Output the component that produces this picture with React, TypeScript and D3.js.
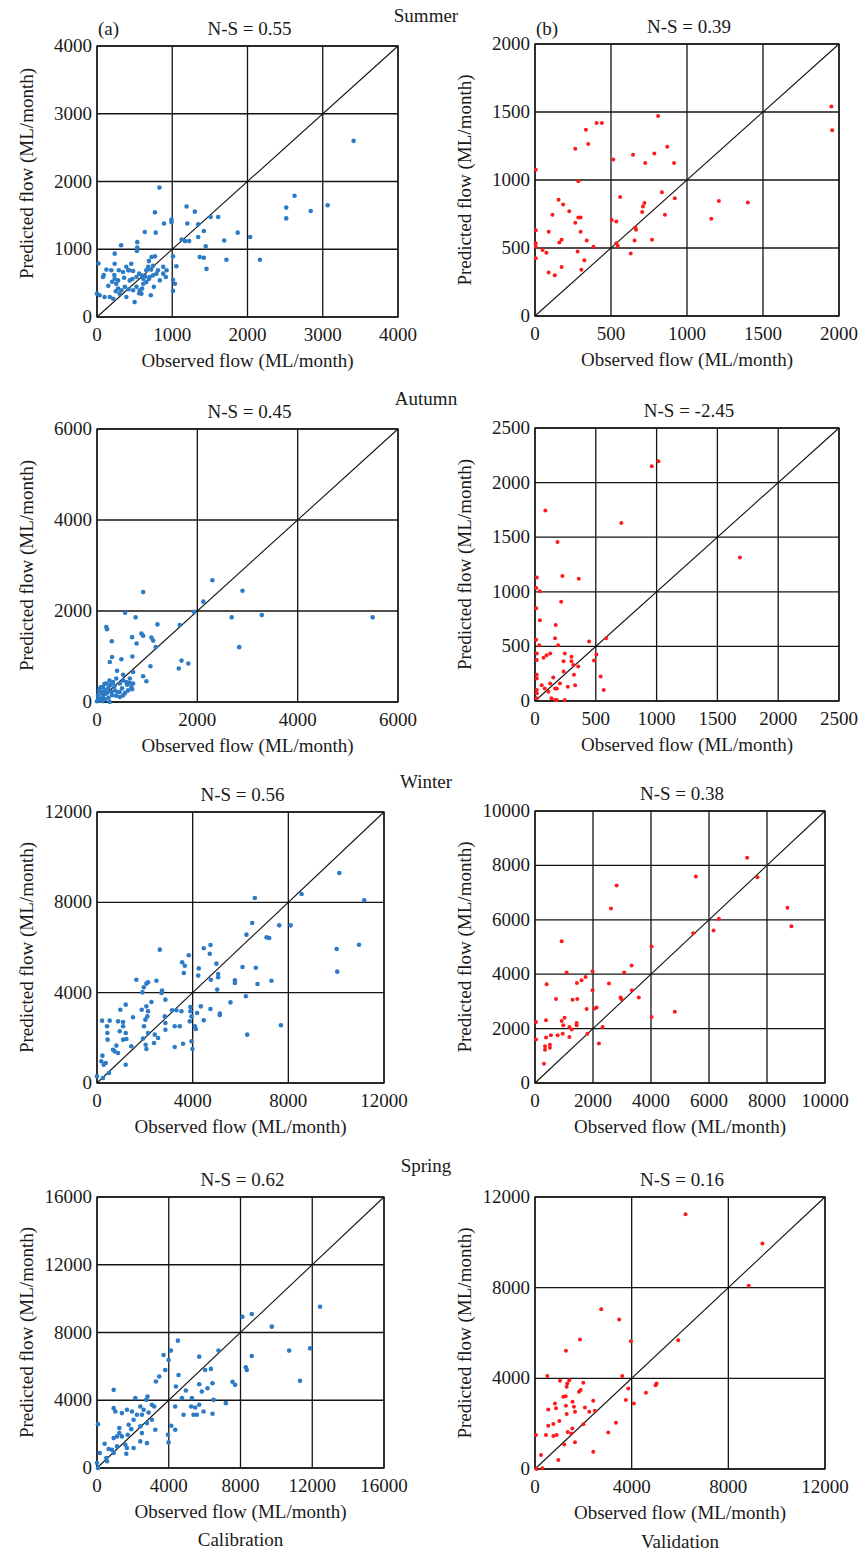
import React from 'react';
import * as d3 from 'd3';

// ---------- DATA (observed, predicted) in ML/month ----------
const summerCal: [number, number][] = [
  [3410,2600],[830,1910],[1190,1630],[1300,1555],[770,1545],[1510,1475],[1610,1475],[890,1380],[990,1440],[990,1400],
  [635,1255],[780,1245],[1200,1380],[1345,1370],[1420,1270],[1345,1180],[1125,1145],[1170,1120],[1225,1120],[1690,1130],
  [1870,1245],[2035,1180],[1445,1045],[1365,885],[1420,875],[1720,845],[2165,845],[1455,710],[2515,1615],[2625,1790],
  [2515,1455],[2840,1565],[3065,1650],[1010,895],[1055,750],[1010,550],[1035,490],[1010,385],[880,740],[915,590],
  [320,1060],[535,1105],[535,1025],[530,975],[725,885],[770,895],[690,825],[745,755],[680,740],[810,690],
  [880,640],[755,445],[715,320],[500,220],[570,395],[590,345],[525,445],[435,540],[415,690],[480,680],
  [235,935],[235,785],[125,700],[80,590],[20,790],[0,345],[35,320],[100,295],[215,270],[170,295],
  [235,565],[190,690],[325,395],[370,445],[255,490],[280,540],[300,345],[390,295],[480,395],[655,690],
  [615,565],[615,490],[655,515],[700,590],[745,615],[790,640],[835,540],[925,690],[525,590],[455,785],
  [390,740],[345,665],[560,640],[600,610],[640,600],[720,700],[560,350],[600,420],[280,420],[250,380],
  [200,520],[150,460],[230,620],[290,690],[90,620],[430,690],[470,560],[690,560],[420,410],[360,580]
];
const summerVal: [number, number][] = [
  [1950,1540],[1955,1365],[810,1470],[405,1420],[440,1420],[335,1370],[350,1265],[265,1230],[645,1185],[785,1195],
  [870,1245],[725,1125],[915,1125],[515,1150],[5,1075],[285,990],[835,910],[560,875],[920,865],[155,855],
  [185,820],[225,770],[115,745],[720,830],[710,805],[705,765],[855,745],[1160,715],[1210,845],[1400,835],
  [265,685],[285,725],[300,725],[90,620],[5,630],[300,620],[505,705],[535,695],[660,650],[665,635],
  [655,555],[770,560],[340,555],[160,540],[175,560],[5,535],[5,510],[50,485],[75,465],[280,475],
  [385,510],[535,535],[545,515],[630,460],[5,425],[325,410],[175,360],[90,320],[130,300],[305,340]
];
const autumnCal: [number, number][] = [
  [5495,1860],[2300,2675],[2900,2445],[920,2415],[2120,2205],[1930,1985],[2685,1860],[3285,1910],[2835,1205],[560,1960],
  [770,1860],[1205,1705],[1650,1690],[185,1650],[200,1600],[700,1425],[885,1505],[920,1455],[1085,1415],[1120,1350],
  [790,1285],[1170,1210],[295,1335],[300,990],[485,940],[705,1000],[255,880],[1685,910],[1820,845],[1630,735],
  [1065,785],[920,565],[985,455],[400,685],[720,660],[520,600],[55,295],[120,330],[185,405],[255,365],
  [320,440],[385,515],[455,405],[520,475],[585,440],[655,515],[720,405],[685,330],[620,255],[520,145],
  [455,110],[255,0],[55,75],[20,145],[120,110],[185,185],[285,220],[355,255],[420,220],[85,220],
  [55,35],[0,15],[150,260],[220,300],[100,180],[40,250],[300,150],[160,60],[230,90],[350,350],
  [500,300],[600,380],[700,280],[450,220],[150,400],[250,470],[80,330],[30,80],[110,20],[200,210],
  [380,140],[560,200],[650,420],[270,380]
];
const autumnVal: [number, number][] = [
  [1015,2195],[960,2150],[85,1745],[710,1630],[185,1455],[1685,1315],[225,1145],[360,1120],[15,1130],[10,1035],
  [40,1005],[215,910],[10,850],[40,740],[170,695],[165,575],[10,560],[35,510],[190,510],[445,545],
  [585,575],[505,425],[485,370],[245,435],[235,365],[125,435],[95,420],[70,395],[15,435],[15,375],
  [300,405],[300,365],[315,330],[355,315],[320,240],[330,145],[270,130],[235,270],[205,160],[150,215],
  [180,115],[165,115],[125,160],[80,115],[55,145],[15,240],[15,205],[15,100],[15,70],[15,25],
  [110,85],[135,25],[165,10],[180,10],[245,10],[540,225],[565,100]
];
const winterCal: [number, number][] = [
  [10130,9300],[11175,8090],[8555,8370],[6600,8190],[6490,7085],[7620,6980],[8095,6980],[7090,6450],[7200,6420],[6250,6570],
  [10020,5935],[10955,6125],[10045,4930],[7690,2555],[6280,2140],[2625,5905],[3835,5655],[3560,5345],[3670,5195],[3630,4870],
  [4465,5965],[4745,6110],[4715,5725],[4995,5285],[4255,5075],[4230,4755],[5065,4825],[5065,4680],[4760,4575],[5025,4135],
  [6085,5135],[6640,5105],[5765,4545],[5765,4430],[6710,4385],[7295,4530],[6225,3840],[5580,3570],[1645,4575],[2135,4460],
  [2065,4400],[1955,4235],[1900,4015],[2485,4530],[2720,4090],[2695,3985],[2860,3690],[2275,3585],[2065,3395],[1870,3245],
  [2135,3175],[2105,2950],[2025,2805],[975,3245],[1200,3470],[1505,2910],[880,2730],[1090,2700],[530,2760],[210,2760],
  [420,2510],[435,2215],[445,1920],[1090,2510],[950,2290],[1200,2215],[1090,1920],[1230,1950],[810,1655],[670,1475],
  [740,1400],[880,1330],[1435,1625],[1200,810],[225,1210],[180,960],[365,885],[280,810],[500,445],[0,295],
  [250,220],[1965,2510],[2135,2215],[1925,1965],[2035,1695],[2065,1505],[2415,2140],[2555,1995],[2385,1770],[2835,2950],
  [2860,2655],[2860,2360],[3140,3220],[3320,3220],[3530,3175],[3250,2510],[3460,2510],[3250,1595],[3600,1740],[3905,3365],
  [3905,3175],[3950,2950],[3880,2730],[3950,1845],[3990,1505],[4090,2510],[4130,2390],[4185,3100],[4340,3395],[4465,2775],
  [4745,3275],[5135,3070],[5135,3010]
];
const winterVal: [number, number][] = [
  [7315,8280],[7670,7560],[5545,7595],[8705,6440],[8840,5765],[6340,6035],[6155,5605],[5455,5510],[2815,7265],[2620,6415],
  [920,5215],[4020,5020],[3330,4320],[3075,4060],[1985,4110],[1090,4060],[1745,3900],[1605,3780],[1445,3680],[2550,3655],
  [1985,3410],[3340,3410],[2950,3140],[2985,3080],[3580,3140],[400,3630],[725,3090],[1295,3065],[1460,3090],[1780,2725],
  [2065,2735],[2125,2775],[4020,2430],[4820,2615],[35,2245],[380,2305],[920,2280],[1020,2395],[975,2125],[1185,2060],
  [1265,1965],[1435,2125],[1435,2210],[2330,2060],[1805,1815],[1185,1695],[780,1755],[550,1755],[380,1670],[955,1815],
  [35,1595],[345,1350],[345,1225],[515,1410],[515,1300],[310,710],[2205,1450]
];
const springCal: [number, number][] = [
  [12435,9520],[8110,8930],[8630,9090],[9745,8345],[10710,6930],[11880,7065],[11320,5145],[6775,6930],[8630,6615],[8295,5950],
  [8350,5790],[7555,5085],[7700,4910],[4510,7520],[4120,6930],[3990,6380],[3710,6675],[3805,5790],[3470,5400],[3285,5105],
  [4545,5495],[5700,6575],[6030,5790],[6350,5850],[5700,4945],[6160,4710],[6440,5005],[5845,4515],[6495,4025],[7185,3830],
  [5940,3335],[6440,3200],[4400,4810],[4955,4575],[4735,4125],[5290,4125],[5250,3630],[5475,3575],[5700,3730],[4825,3140],
  [5380,3140],[5570,3140],[4360,3630],[4360,2260],[4140,2495],[3955,1965],[3990,1510],[3250,2260],[2820,4220],[2745,4025],
  [3060,3730],[3190,3630],[2875,3280],[2600,3435],[2415,3630],[2505,3140],[2225,3140],[2135,4125],[2785,2650],[3060,2845],
  [2415,2455],[2040,2845],[1950,3335],[1670,3435],[1390,3240],[930,3535],[1020,3335],[930,4615],[1245,2355],[1245,2060],
  [1390,1865],[1115,1865],[930,1765],[1765,2550],[1910,2295],[1710,1965],[1115,1275],[1580,1375],[1670,1180],[1635,845],
  [2040,1180],[2415,1570],[2505,2060],[2785,1470],[835,1080],[930,885],[425,1435],[650,1120],[520,590],[150,885],
  [55,2590],[0,295],[55,0],[555,395]
];
const springVal: [number, number][] = [
  [6230,11235],[9410,9945],[8845,8080],[5925,5685],[2740,7050],[3485,6595],[1860,5715],[3970,5640],[1280,5215],[3610,4100],
  [510,4100],[1035,3895],[1335,3775],[1420,3920],[1310,3630],[2000,3805],[1820,3410],[1890,3480],[3860,3555],[4590,3365],
  [5030,3775],[4990,3700],[3760,3040],[4090,2895],[1170,3185],[1270,3215],[825,2895],[870,2675],[550,2630],[1280,2790],
  [1310,2425],[1555,2965],[1610,2745],[1655,2525],[2065,2715],[2410,3010],[2245,2525],[2480,2570],[1005,2115],[760,1985],
  [550,1910],[2000,1970],[3350,2040],[3030,1615],[1350,1630],[1500,1570],[1545,1790],[40,1500],[455,1500],[760,1455],
  [895,1500],[1210,1085],[1655,1175],[2410,765],[250,615],[965,395],[70,0],[305,30]
];

const summerCalTicks = [0, 1000, 2000, 3000, 4000];
const summerValTicks = [0, 500, 1000, 1500, 2000];
const autumnCalTicks = [0, 2000, 4000, 6000];
const autumnValTicks = [0, 500, 1000, 1500, 2000, 2500];
const winterCalTicks = [0, 4000, 8000, 12000];
const winterValTicks = [0, 2000, 4000, 6000, 8000, 10000];
const springCalTicks = [0, 4000, 8000, 12000, 16000];
const springValTicks = [0, 4000, 8000, 12000];

const nsValues = ['0.55', '0.39', '0.45', '-2.45', '0.56', '0.38', '0.62', '0.16'];
const seasons = ['Summer', 'Autumn', 'Winter', 'Spring'];
const panelTags = ['(a)', '(b)'];
const columnLabels = ['Calibration', 'Validation'];

// ---------- LAYOUT / STYLE ----------
const FONT = '"Liberation Serif", "Times New Roman", Times, serif';
const BLUE = '#2b7bc6';
const RED = '#ff1a1a';
const LINE = '#141414';
const TEXT = '#1a1a1a';

const boxes = [
  { x0: 97, x1: 398, y0: 46, y1: 317 },
  { x0: 535, x1: 839, y0: 44, y1: 316 },
  { x0: 97, x1: 398, y0: 429, y1: 702 },
  { x0: 535, x1: 839, y0: 428, y1: 701 },
  { x0: 97, x1: 384, y0: 812, y1: 1083 },
  { x0: 535, x1: 825, y0: 811, y1: 1083 },
  { x0: 97, x1: 384, y0: 1197, y1: 1468 },
  { x0: 535, x1: 825, y0: 1197, y1: 1469 },
];
const seasonLabelY = [22, 405, 788, 1172];

const panelData = [summerCal, summerVal, autumnCal, autumnVal, winterCal, winterVal, springCal, springVal];
const panelTicks = [summerCalTicks, summerValTicks, autumnCalTicks, autumnValTicks, winterCalTicks, winterValTicks, springCalTicks, springValTicks];

function Scatter({ idx }: { idx: number }) {
  const b = boxes[idx];
  const ticks = panelTicks[idx];
  const data = panelData[idx];
  const isCal = idx % 2 === 0;
  const max = ticks[ticks.length - 1];
  const x = d3.scaleLinear().domain([0, max]).range([b.x0, b.x1]);
  const y = d3.scaleLinear().domain([0, max]).range([b.y1, b.y0]);
  const cx = (b.x0 + b.x1) / 2;
  const cy = (b.y0 + b.y1) / 2;
  const diag = d3.line<[number, number]>().x(d => x(d[0])).y(d => y(d[1]))([[0, 0], [max, max]]) || '';
  return (
    <g>
      {ticks.map(t => (
        <line key={'v' + t} x1={x(t)} x2={x(t)} y1={b.y0} y2={b.y1} stroke={LINE} strokeWidth={1.3} />
      ))}
      {ticks.map(t => (
        <line key={'h' + t} x1={b.x0} x2={b.x1} y1={y(t)} y2={y(t)} stroke={LINE} strokeWidth={1.3} />
      ))}
      <rect x={b.x0} y={b.y0} width={b.x1 - b.x0} height={b.y1 - b.y0} fill="none" stroke={LINE} strokeWidth={1.3} />
      <path d={diag} stroke={LINE} strokeWidth={1.1} fill="none" />
      {data.map((d, i) => (
        <circle key={i} cx={x(d[0])} cy={y(d[1])} r={isCal ? 2.3 : 2.0} fill={isCal ? BLUE : RED} />
      ))}
      {ticks.map(t => (
        <text key={'xt' + t} x={x(t)} y={b.y1 + 24} textAnchor="middle" fontSize={19} fill={TEXT}>{t}</text>
      ))}
      {ticks.map(t => (
        <text key={'yt' + t} x={b.x0 - 5} y={y(t) + 6} textAnchor="end" fontSize={19} fill={TEXT}>{t}</text>
      ))}
      <text x={cx + 2} y={b.y0 - 11} textAnchor="middle" fontSize={19} fill={TEXT}>{`N-S = ${nsValues[idx]}`}</text>
      <text x={cx} y={b.y1 + 50} textAnchor="middle" fontSize={19} fill={TEXT}>Observed flow (ML/month)</text>
      <text transform={`translate(${b.x0 - 64},${cy - (idx === 0 ? 8 : 0)}) rotate(-90)`} textAnchor="middle" fontSize={19} fill={TEXT}>
        Predicted flow (ML/month)
      </text>
    </g>
  );
}

export default function App() {
  return (
    <svg width={860} height={1553} style={{ position: 'absolute', left: 0, top: 0, background: '#fff' }} fontFamily={FONT}>
      <rect x={0} y={0} width={860} height={1553} fill="#fff" />
      {boxes.map((_, i) => <Scatter key={i} idx={i} />)}
      {seasons.map((s, i) => (
        <text key={s} x={426} y={seasonLabelY[i]} textAnchor="middle" fontSize={19} fill={TEXT}>{s}</text>
      ))}
      <text x={boxes[0].x0 + 1} y={35} fontSize={19} fill={TEXT}>{panelTags[0]}</text>
      <text x={boxes[1].x0 + 1} y={35} fontSize={19} fill={TEXT}>{panelTags[1]}</text>
      <text x={(boxes[6].x0 + boxes[6].x1) / 2} y={1546} textAnchor="middle" fontSize={19} fill={TEXT}>{columnLabels[0]}</text>
      <text x={(boxes[7].x0 + boxes[7].x1) / 2} y={1548} textAnchor="middle" fontSize={19} fill={TEXT}>{columnLabels[1]}</text>
    </svg>
  );
}
